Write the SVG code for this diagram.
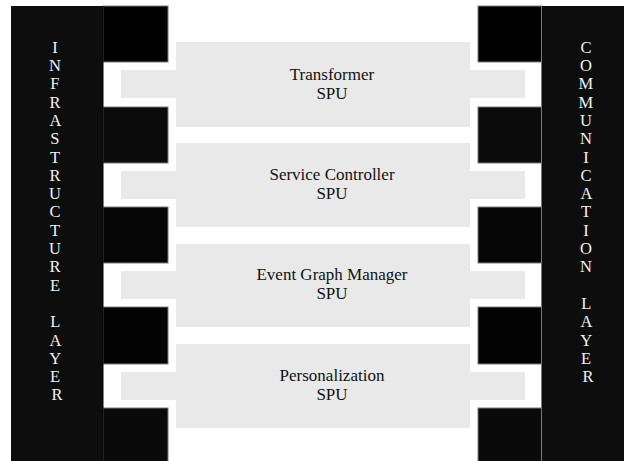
<svg xmlns="http://www.w3.org/2000/svg" width="624" height="461" viewBox="0 0 624 461">
  <style>
    .col { fill: #0d0d0d; }
    .tab { stroke: #7a7a7a; stroke-width: 1; }
    .spu { fill: #e9e9e9; }
    .vlabel { font-family: "Liberation Serif", "Times New Roman", serif; font-size: 16.5px; fill: #f2f2f2; text-anchor: middle; }
    .label { font-family: "Liberation Serif", "Times New Roman", serif; font-size: 17px; fill: #111111; text-anchor: middle; }
  </style>
  <rect width="624" height="461" fill="#ffffff"/>

  <!-- left layer: column plus its teeth -->
  <g id="infrastructure-layer">
    <rect class="tab" x="103" y="6" width="65" height="56" fill="#020202"/>
    <rect class="tab" x="103" y="107" width="65" height="56" fill="#0b0b0b"/>
    <rect class="tab" x="103" y="207" width="65" height="56" fill="#060606"/>
    <rect class="tab" x="103" y="307" width="65" height="57" fill="#030303"/>
    <rect class="tab" x="103" y="408" width="65" height="60" fill="#0a0a0a"/>
    <rect class="col" x="11" y="6" width="92" height="460"/>
    <line x1="103" y1="6" x2="103" y2="461" stroke="#050505" stroke-width="1"/>
    <text class="vlabel">
      <tspan x="57" y="52.7">I</tspan>
      <tspan x="57" y="71">N</tspan>
      <tspan x="57" y="89.3">F</tspan>
      <tspan x="57" y="107.6">R</tspan>
      <tspan x="57" y="125.9">A</tspan>
      <tspan x="57" y="144.2">S</tspan>
      <tspan x="57" y="162.5">T</tspan>
      <tspan x="57" y="180.8">R</tspan>
      <tspan x="57" y="199.1">U</tspan>
      <tspan x="57" y="217.4">C</tspan>
      <tspan x="57" y="235.7">T</tspan>
      <tspan x="57" y="254">U</tspan>
      <tspan x="57" y="272.3">R</tspan>
      <tspan x="57" y="290.6">E</tspan>
      <tspan x="57" y="327.2">L</tspan>
      <tspan x="57" y="345.5">A</tspan>
      <tspan x="57" y="363.8">Y</tspan>
      <tspan x="57" y="382.1">E</tspan>
      <tspan x="57" y="400.4">R</tspan>
    </text>
  </g>

  <!-- right layer: column plus its teeth -->
  <g id="communication-layer">
    <rect class="tab" x="478" y="6" width="64" height="56" fill="#020202"/>
    <rect class="tab" x="478" y="107" width="64" height="56" fill="#0b0b0b"/>
    <rect class="tab" x="478" y="207" width="64" height="56" fill="#060606"/>
    <rect class="tab" x="478" y="307" width="64" height="57" fill="#030303"/>
    <rect class="tab" x="478" y="408" width="64" height="60" fill="#0a0a0a"/>
    <line x1="541.5" y1="6" x2="541.5" y2="461" stroke="#7a7a7a" stroke-width="1"/>
    <rect class="col" x="542" y="6" width="90" height="460"/>
    <text class="vlabel">
      <tspan x="588" y="52.7">C</tspan>
      <tspan x="588" y="71">O</tspan>
      <tspan x="588" y="89.3">M</tspan>
      <tspan x="588" y="107.6">M</tspan>
      <tspan x="588" y="125.9">U</tspan>
      <tspan x="588" y="144.2">N</tspan>
      <tspan x="588" y="162.5">I</tspan>
      <tspan x="588" y="180.8">C</tspan>
      <tspan x="588" y="199.1">A</tspan>
      <tspan x="588" y="217.4">T</tspan>
      <tspan x="588" y="235.7">I</tspan>
      <tspan x="588" y="254">O</tspan>
      <tspan x="588" y="272.3">N</tspan>
      <tspan x="588" y="308.9">L</tspan>
      <tspan x="588" y="327.2">A</tspan>
      <tspan x="588" y="345.5">Y</tspan>
      <tspan x="588" y="363.8">E</tspan>
      <tspan x="588" y="382.1">R</tspan>
    </text>
  </g>

  <!-- SPU blocks: a tall body with a wide arm reaching into both layers -->
  <g id="transformer-spu">
    <rect class="spu" x="176" y="42" width="294" height="85"/>
    <rect class="spu" x="121" y="70" width="404" height="28"/>
    <text class="label" x="332" y="80.2">Transformer</text>
    <text class="label" x="332" y="98.8">SPU</text>
  </g>
  <g id="service-controller-spu">
    <rect class="spu" x="176" y="143" width="294" height="84"/>
    <rect class="spu" x="121" y="171" width="404" height="28"/>
    <text class="label" x="332" y="180.2">Service Controller</text>
    <text class="label" x="332" y="198.8">SPU</text>
  </g>
  <g id="event-graph-manager-spu">
    <rect class="spu" x="176" y="244" width="294" height="83"/>
    <rect class="spu" x="121" y="271" width="404" height="28"/>
    <text class="label" x="332" y="280.2">Event Graph Manager</text>
    <text class="label" x="332" y="298.8">SPU</text>
  </g>
  <g id="personalization-spu">
    <rect class="spu" x="176" y="344" width="294" height="84"/>
    <rect class="spu" x="121" y="372" width="404" height="28"/>
    <text class="label" x="332" y="381.2">Personalization</text>
    <text class="label" x="332" y="399.8">SPU</text>
  </g>

  <g id="connectors"/>
</svg>
